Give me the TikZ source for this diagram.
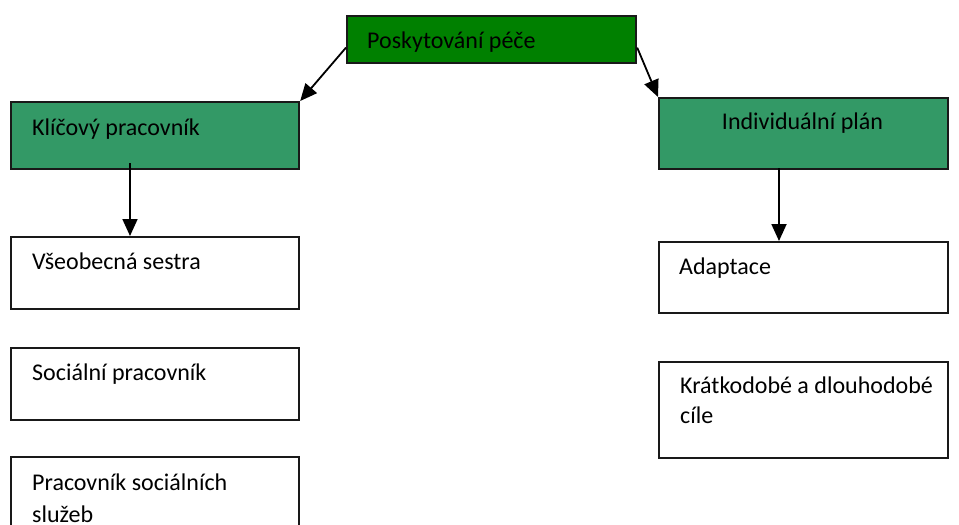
\documentclass[tikz,border=0pt]{standalone}
\usepackage{fontspec}
\setmainfont{Carlito}
\usetikzlibrary{arrows.meta}
\definecolor{headgreen}{HTML}{008000}
\definecolor{boxgreen}{HTML}{339966}
\tikzset{
  box/.style={draw=black!90, line width=2.2pt, rectangle, anchor=north west, inner sep=0pt},
  greenbox/.style={box, fill=boxgreen},
  label/.style={anchor=base west, inner sep=0pt, font=\fontsize{24}{30}\selectfont, align=left},
  conn/.style={line width=1.8pt, -{Triangle[length=17pt,width=15pt]}}
}
\begin{document}
\begin{tikzpicture}[x=1pt,y=-1pt]
  \useasboundingbox (0,0) rectangle (959,525);
  % top level
  \node[box, fill=headgreen, minimum width=289pt, minimum height=47pt] (care) at (346,15) {};
  \node[label] (careT) at (367,48) {Poskytování péče};
  % second level
  \node[greenbox, minimum width=288pt, minimum height=67pt] (key) at (10,101) {};
  \node[label] (keyT) at (32,135) {Klíčový pracovník};
  \node[greenbox, minimum width=289pt, minimum height=71pt] (plan) at (658,97) {};
  \node[label, anchor=base] (planT) at (802.5,129) {Individuální plán};
  % left column
  \node[box, minimum width=288pt, minimum height=72pt] (nurse) at (10,236) {};
  \node[label] (nurseT) at (32,269) {Všeobecná sestra};
  \node[box, minimum width=288pt, minimum height=72pt] (social) at (10,347) {};
  \node[label] (socialT) at (32,380) {Sociální pracovník};
  \node[box, minimum width=288pt, minimum height=90pt] (services) at (10,456) {};
  \node[label, font=\fontsize{24}{32}\selectfont] (servicesT) at (32,522) {Pracovník sociálních\\služeb};
  % right column
  \node[box, minimum width=289pt, minimum height=71pt] (adapt) at (658,241) {};
  \node[label] (adaptT) at (679,274) {Adaptace};
  \node[box, minimum width=289pt, minimum height=96pt] (goals) at (658,361) {};
  \node[label] (goalsT) at (680,423) {Krátkodobé a dlouhodobé\\cíle};
  % connectors
  \coordinate (careL) at ([yshift=-8pt]care.west);
  \coordinate (careR) at ([yshift=-8pt]care.east);
  \draw[conn] (careL) -- (key.north east);
  \draw[conn] (careR) -- (plan.north west);
  \coordinate (keyS) at (130,163);
  \coordinate (nurseN) at (130,236);
  \draw[conn] (keyS) -- (nurseN);
  \coordinate (planS) at (779,168);
  \coordinate (adaptN) at (779,241);
  \draw[conn] (planS) -- (adaptN);
\end{tikzpicture}
\end{document}
